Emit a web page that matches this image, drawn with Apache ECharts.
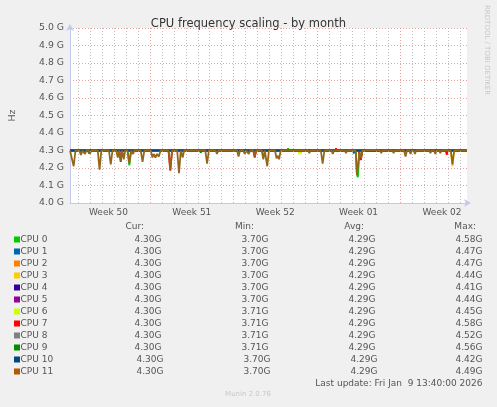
<!DOCTYPE html>
<html lang="en">
<head>
<meta charset="UTF-8">
<title>CPU frequency scaling - by month</title>
<script src="https://cdn.jsdelivr.net/npm/echarts@6/dist/echarts.min.js"></script>
<style>
    html, body { margin: 0; padding: 0; background: #f0f0f0; }
    #main { width: 497px; height: 407px; }
</style>
</head>
<body>
<div id="main"></div>
<script type="text/javascript">
    // x values are days counted from the Sunday before week 50
    var weekLabels = ['Week 50', 'Week 51', 'Week 52', 'Week 01', 'Week 02'];
    var weekCenters = [3.5, 10.5, 17.5, 24.5, 31.5];
    var weekLines = [7, 14, 21, 28];
    var dayLines = [1, 2, 3, 4, 5, 6, 7, 8, 9, 10, 11, 12, 13, 14, 15, 16, 17, 18, 19, 20,
        21, 22, 23, 24, 25, 26, 27, 28, 29, 30, 31, 32, 33];

    var cpuNames = ['CPU 0', 'CPU 1', 'CPU 2', 'CPU 3', 'CPU 4', 'CPU 5',
        'CPU 6', 'CPU 7', 'CPU 8', 'CPU 9', 'CPU 10', 'CPU 11'];
    var cpuColors = ['#00cc00', '#0066b3', '#ff8000', '#ffcc00', '#330099', '#990099',
        '#ccff00', '#ff0000', '#808080', '#008f00', '#00487d', '#b35a00'];

    var curVals = ['4.30G', '4.30G', '4.30G', '4.30G', '4.30G', '4.30G',
        '4.30G', '4.30G', '4.30G', '4.30G', '4.30G', '4.30G'];
    var minVals = ['3.70G', '3.70G', '3.70G', '3.70G', '3.70G', '3.70G',
        '3.71G', '3.71G', '3.71G', '3.71G', '3.70G', '3.70G'];
    var avgVals = ['4.29G', '4.29G', '4.29G', '4.29G', '4.29G', '4.29G',
        '4.29G', '4.29G', '4.29G', '4.29G', '4.29G', '4.29G'];
    var maxVals = ['4.58G', '4.47G', '4.47G', '4.44G', '4.41G', '4.44G',
        '4.45G', '4.58G', '4.52G', '4.56G', '4.42G', '4.49G'];

    // [day, GHz]
    var cpu0 = [[0.27, 4.30], [5.10, 4.30], [5.25, 4.215], [5.40, 4.30], [5.96, 4.30], [6.03, 4.31], [6.10, 4.30],
        [18.50, 4.30], [18.58, 4.313], [18.66, 4.30],
        [24.26, 4.30], [24.36, 4.16], [24.44, 4.148], [24.57, 4.29], [24.69, 4.255], [24.82, 4.30], [33.6, 4.30]];
    var cpu1 = [[0.27, 4.30], [22.78, 4.30], [22.85, 4.29], [22.92, 4.30], [24.03, 4.30], [24.10, 4.283], [24.17, 4.30],
        [33.6, 4.30]];
    var cpu2 = [[0.27, 4.30], [13.00, 4.30], [13.05, 4.305], [13.10, 4.30], [25.10, 4.30], [25.20, 4.306], [25.30, 4.30],
        [33.6, 4.30]];
    var cpu3 = [[0.27, 4.30], [19.58, 4.30], [19.65, 4.285], [19.72, 4.30], [32.24, 4.30], [32.38, 4.21], [32.52, 4.30],
        [33.6, 4.30]];
    var cpu4 = [[0.27, 4.30], [9.58, 4.30], [9.65, 4.293], [9.72, 4.30], [21.88, 4.30], [21.95, 4.292], [22.02, 4.30],
        [33.6, 4.30]];
    var cpu5 = [[0.27, 4.30], [6.88, 4.30], [6.95, 4.306], [7.02, 4.30], [23.18, 4.30], [23.25, 4.292], [23.32, 4.30],
        [33.6, 4.30]];
    var cpu6 = [[0.27, 4.30], [14.88, 4.30], [14.95, 4.283], [15.02, 4.30], [19.46, 4.30], [19.53, 4.278], [19.60, 4.30],
        [33.6, 4.30]];
    var cpu7 = [[0.27, 4.30], [4.42, 4.30], [4.53, 4.235], [4.65, 4.30], [8.54, 4.30], [8.69, 4.185], [8.84, 4.30],
        [15.66, 4.30], [15.78, 4.26], [15.90, 4.30], [22.53, 4.30], [22.60, 4.312], [22.67, 4.30],
        [24.50, 4.30], [24.57, 4.29], [24.69, 4.245], [24.82, 4.30], [25.43, 4.30], [25.50, 4.31], [25.57, 4.30],
        [31.82, 4.30], [31.90, 4.275], [31.98, 4.30], [33.6, 4.30]];
    var cpu8 = [[0.27, 4.30], [12.18, 4.30], [12.25, 4.294], [12.32, 4.30], [33.6, 4.30]];
    var cpu9 = [[0.27, 4.30], [1.78, 4.30], [1.86, 4.283], [1.94, 4.30], [11.18, 4.30], [11.25, 4.287], [11.32, 4.30],
        [17.08, 4.30], [17.15, 4.289], [17.22, 4.30], [33.6, 4.30]];
    var cpu10 = [[0.27, 4.30], [29.98, 4.30], [30.05, 4.289], [30.12, 4.30], [33.6, 4.30]];
    var cpu11 = [
        [0.27, 4.30], [0.43, 4.30], [0.58, 4.21], [0.73, 4.30],
        [1.05, 4.30], [1.19, 4.275], [1.32, 4.30], [1.42, 4.30], [1.53, 4.28], [1.65, 4.30],
        [1.83, 4.30], [1.94, 4.28], [2.06, 4.30], [2.60, 4.30], [2.75, 4.19], [2.90, 4.30],
        [3.54, 4.30], [3.69, 4.22], [3.84, 4.30], [4.16, 4.30], [4.28, 4.26], [4.40, 4.30],
        [4.42, 4.30], [4.53, 4.24], [4.65, 4.30], [4.67, 4.30], [4.78, 4.25], [4.90, 4.30],
        [5.10, 4.30], [5.25, 4.225], [5.40, 4.30], [5.46, 4.30], [5.57, 4.28], [5.68, 4.30],
        [6.21, 4.30], [6.36, 4.235], [6.51, 4.30],
        [7.05, 4.30], [7.19, 4.26], [7.30, 4.28], [7.44, 4.26], [7.58, 4.28], [7.73, 4.265], [7.87, 4.30],
        [8.54, 4.30], [8.69, 4.19], [8.84, 4.30], [9.27, 4.30], [9.42, 4.17], [9.57, 4.30],
        [9.61, 4.30], [9.73, 4.26], [9.85, 4.30],
        [11.63, 4.30], [11.78, 4.225], [11.93, 4.30], [12.49, 4.30], [12.61, 4.28], [12.73, 4.30],
        [14.30, 4.30], [14.42, 4.265], [14.54, 4.30], [14.82, 4.30], [14.94, 4.28], [15.06, 4.30],
        [15.16, 4.30], [15.28, 4.28], [15.40, 4.30], [15.66, 4.30], [15.78, 4.265], [15.90, 4.30],
        [16.37, 4.30], [16.50, 4.25], [16.62, 4.30], [16.69, 4.30], [16.83, 4.21], [16.97, 4.30],
        [17.48, 4.30], [17.61, 4.255], [17.72, 4.27], [17.82, 4.25], [17.96, 4.30],
        [19.45, 4.30], [19.53, 4.29], [19.61, 4.30], [20.27, 4.30], [20.36, 4.285], [20.45, 4.30],
        [21.33, 4.30], [21.48, 4.225], [21.63, 4.30], [22.23, 4.30], [22.33, 4.28], [22.43, 4.30],
        [23.35, 4.30], [23.44, 4.285], [23.53, 4.30],
        [24.26, 4.30], [24.36, 4.16], [24.46, 4.155], [24.57, 4.29], [24.69, 4.255], [24.82, 4.30],
        [24.95, 4.303], [25.90, 4.303], [26.00, 4.30],
        [26.31, 4.30], [26.40, 4.285], [26.49, 4.30], [27.35, 4.30], [27.44, 4.285], [27.53, 4.30],
        [28.32, 4.30], [28.44, 4.265], [28.56, 4.30], [28.76, 4.30], [28.86, 4.28], [28.96, 4.30],
        [29.13, 4.30], [29.23, 4.28], [29.33, 4.30], [30.44, 4.30], [30.53, 4.285], [30.62, 4.30],
        [30.84, 4.30], [30.94, 4.28], [31.04, 4.30], [31.27, 4.30], [31.36, 4.285], [31.45, 4.30],
        [32.24, 4.30], [32.38, 4.22], [32.52, 4.30], [32.78, 4.30], [32.86, 4.29], [32.94, 4.30],
        [33.60, 4.30]
    ];
    var cpuData = [cpu0, cpu1, cpu2, cpu3, cpu4, cpu5, cpu6, cpu7, cpu8, cpu9, cpu10, cpu11];

    var FONT = '"DejaVu Sans", sans-serif';
    var gridRed = 'rgba(222, 120, 120, 0.7)';
    var gridGrey = 'rgba(170, 170, 170, 0.75)';
    // the last CPU sits on top of eleven others, so its visible trace is a darker olive brown
    var topTrace = '#94661a';

    var myChart = echarts.init(document.getElementById('main'));

    var series = [{
        // holds only the vertical grid lines
        type: 'line',
        data: [],
        silent: true,
        z: 1,
        markLine: {
            silent: true,
            symbol: ['none', 'none'],
            label: { show: false },
            emphasis: { disabled: true },
            animation: false,
            data: dayLines.map(function (d) {
                return {
                    xAxis: d,
                    lineStyle: {
                        color: weekLines.indexOf(d) >= 0 ? gridRed : gridGrey,
                        type: [1, 2],
                        width: 1
                    }
                };
            })
        }
    }];
    cpuData.forEach(function (d, i) {
        var c = i === cpuData.length - 1 ? topTrace : cpuColors[i];
        series.push({
            name: cpuNames[i],
            type: 'line',
            data: d,
            z: 3,
            showSymbol: false,
            symbol: 'none',
            lineStyle: { color: c, width: 1.8 },
            itemStyle: { color: c }
        });
    });

    // legend table under the plot
    var graphics = [];
    var colRight = [144, 254, 364, 476];
    var colHead = ['Cur:', 'Min:', 'Avg:', 'Max:'];
    colHead.forEach(function (t, j) {
        graphics.push({
            type: 'text', x: colRight[j], y: 227,
            style: { text: t, fill: '#555', font: '9px ' + FONT, align: 'right', verticalAlign: 'middle' }
        });
    });
    var valRight = [161.5, 268.5, 375.5, 482.5];
    cpuNames.forEach(function (name, i) {
        var y = 239.5 + i * 12;
        var shift = name.length > 5 ? 2 : 0;
        graphics.push({
            type: 'rect', shape: { x: 14, y: y - 3, width: 6, height: 6 },
            style: { fill: cpuColors[i] }
        });
        graphics.push({
            type: 'text', x: 20.5, y: y,
            style: { text: name, fill: '#555', font: '9px ' + FONT, align: 'left', verticalAlign: 'middle' }
        });
        [curVals[i], minVals[i], avgVals[i], maxVals[i]].forEach(function (v, j) {
            graphics.push({
                type: 'text', x: valRight[j] + (j < 3 ? shift : 0), y: y,
                style: { text: v, fill: '#555', font: '9px ' + FONT, align: 'right', verticalAlign: 'middle' }
            });
        });
    });
    graphics.push({
        type: 'text', x: 482.5, y: 383.5,
        style: { text: 'Last update: Fri Jan  9 13:40:00 2026', fill: '#555', font: '9px ' + FONT,
            align: 'right', verticalAlign: 'middle' }
    });
    graphics.push({
        type: 'text', x: 248, y: 394.5,
        style: { text: 'Munin 2.0.76', fill: '#c8c8c8', font: '7px ' + FONT, align: 'center', verticalAlign: 'middle' }
    });
    graphics.push({
        type: 'text', x: 487, y: 5, rotation: -Math.PI / 2,
        style: { text: 'RRDTOOL / TOBI OETIKER', fill: '#c8c8c8', font: '7px ' + FONT, align: 'left', verticalAlign: 'middle' }
    });

    var option = {
        animation: false,
        backgroundColor: '#f0f0f0',
        title: {
            text: 'CPU frequency scaling - by month',
            left: 'center',
            top: 13,
            textStyle: { fontFamily: FONT, fontSize: 11.5, fontWeight: 'normal', color: '#333' }
        },
        grid: {
            left: 67, top: 28, width: 400, height: 175,
            show: true, backgroundColor: '#ffffff', borderWidth: 0
        },
        xAxis: {
            type: 'value',
            min: 0.27,
            max: 33.6,
            axisLine: {
                show: true,
                lineStyle: { color: '#c4c9ec', width: 1 },
                symbol: ['none', 'arrow'],
                symbolSize: [6, 7],
                symbolOffset: [0, 4]
            },
            axisTick: { show: false },
            splitLine: { show: false },
            axisLabel: {
                customValues: weekCenters,
                formatter: function (v) {
                    return weekLabels[weekCenters.indexOf(v)];
                },
                margin: 5,
                color: '#555',
                fontFamily: FONT,
                fontSize: 9
            }
        },
        yAxis: {
            type: 'value',
            min: 4.0,
            max: 5.0,
            interval: 0.1,
            name: 'Hz',
            nameLocation: 'middle',
            nameGap: 52,
            nameRotate: 90,
            nameTextStyle: { color: '#555', fontFamily: FONT, fontSize: 9.5 },
            axisLine: {
                show: true,
                lineStyle: { color: '#c4c9ec', width: 1 },
                symbol: ['none', 'arrow'],
                symbolSize: [6, 7],
                symbolOffset: [0, 4]
            },
            axisTick: { show: false },
            axisLabel: {
                margin: 6,
                color: '#555',
                fontFamily: FONT,
                fontSize: 9.3,
                formatter: function (v) { return v.toFixed(1) + ' G'; }
            },
            splitLine: { show: true, lineStyle: { color: gridRed, type: [1, 2], width: 1 } }
        },
        graphic: graphics,
        series: series
    };
    myChart.setOption(option);
</script>
</body>
</html>
